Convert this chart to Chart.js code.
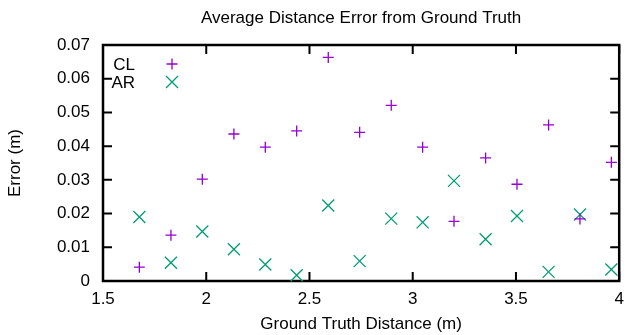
<!DOCTYPE html>
<html lang="en">

<head>
    <meta charset="UTF-8">
    <title>Average Distance Error</title>
    <script src="https://cdn.jsdelivr.net/npm/chart.js"></script>
    <style>
        html, body {
            margin: 0;
            padding: 0;
            background: #ffffff;
        }

        .chart-box {
            width: 629px;
            height: 335px;
        }
    </style>
</head>

<body>
    <div class="chart-box">
        <canvas id="errorChart"></canvas>
    </div>

    <script>
        // data
        const distances = [1.676, 1.829, 1.981, 2.134, 2.286, 2.438, 2.591, 2.743, 2.896, 3.048, 3.200, 3.353, 3.505, 3.658, 3.810, 3.962];
        const clError = [0.0041, 0.0136, 0.0302, 0.0436, 0.0397, 0.0445, 0.0663, 0.0441, 0.0521, 0.0397, 0.0177, 0.0365, 0.0287, 0.0463, 0.0184, 0.0352];
        const arError = [0.0190, 0.0054, 0.0147, 0.0094, 0.0049, 0.0017, 0.0224, 0.0059, 0.0185, 0.0174, 0.0297, 0.0124, 0.0193, 0.0027, 0.0197, 0.0034];
        const xTicks = [1.5, 2, 2.5, 3, 3.5, 4];
        const yTicks = [0, 0.01, 0.02, 0.03, 0.04, 0.05, 0.06, 0.07];

        const FONT = "'Liberation Sans', Arial, sans-serif";

        // gnuplot style frame: box plus inward ticks on all four sides
        const framePlugin = {
            id: 'frame',
            beforeDatasetsDraw(chart) {
                const { ctx, chartArea: a, scales } = chart;
                const len = 9;
                ctx.save();
                ctx.strokeStyle = '#000';
                ctx.lineWidth = 2;
                ctx.beginPath();
                scales.x.ticks.forEach(t => {
                    const px = scales.x.getPixelForValue(t.value);
                    ctx.moveTo(px, a.bottom); ctx.lineTo(px, a.bottom - len);
                    ctx.moveTo(px, a.top); ctx.lineTo(px, a.top + len);
                });
                scales.y.ticks.forEach(t => {
                    const py = scales.y.getPixelForValue(t.value);
                    ctx.moveTo(a.left, py); ctx.lineTo(a.left + len, py);
                    ctx.moveTo(a.right, py); ctx.lineTo(a.right - len, py);
                });
                ctx.stroke();
                ctx.lineWidth = 2.5;
                ctx.strokeRect(a.left, a.top, a.right - a.left, a.bottom - a.top);
                ctx.restore();
            }
        };

        // key in the top left corner, text right-justified then the marker
        const keyPlugin = {
            id: 'key',
            afterDatasetsDraw(chart) {
                const { ctx } = chart;
                ctx.save();
                ctx.font = '17px ' + FONT;
                ctx.textAlign = 'right';
                ctx.textBaseline = 'middle';
                chart.data.datasets.forEach((ds, i) => {
                    const y = 64 + i * 18;
                    ctx.fillStyle = '#000';
                    ctx.fillText(ds.label, 135, y + 1);
                    ctx.strokeStyle = ds.borderColor;
                    ctx.lineWidth = ds.borderWidth;
                    Chart.helpers.drawPoint(ctx, {
                        pointStyle: ds.pointStyle,
                        radius: ds.pointRadius,
                        rotation: 0,
                        borderWidth: ds.borderWidth
                    }, 172, y);
                });
                ctx.restore();
            }
        };

        new Chart(document.getElementById('errorChart'), {
            type: 'scatter',
            data: {
                datasets: [{
                    label: 'CL',
                    data: distances.map((d, i) => ({ x: d, y: clError[i] })),
                    pointStyle: 'cross',
                    pointRadius: 5.5,
                    borderColor: '#9400d3',
                    backgroundColor: '#9400d3',
                    borderWidth: 1.3,
                    clip: false
                }, {
                    label: 'AR',
                    data: distances.map((d, i) => ({ x: d, y: arError[i] })),
                    pointStyle: 'crossRot',
                    pointRadius: 8.5,
                    borderColor: '#009e73',
                    backgroundColor: '#009e73',
                    borderWidth: 1.3,
                    clip: false
                }]
            },
            options: {
                responsive: true,
                maintainAspectRatio: false,
                animation: false,
                events: [],
                layout: {
                    padding: { left: 0, right: 7, top: 0, bottom: 0 }
                },
                plugins: {
                    legend: { display: false },
                    tooltip: { enabled: false },
                    title: {
                        display: true,
                        text: 'Average Distance Error from Ground Truth',
                        fullSize: false,
                        color: '#000',
                        font: { family: FONT, size: 17, weight: 'normal' },
                        padding: { top: 8, bottom: 16.6 }
                    }
                },
                scales: {
                    x: {
                        type: 'linear',
                        min: 1.5,
                        max: 4,
                        afterBuildTicks: s => { s.ticks = xTicks.map(v => ({ value: v })); },
                        afterFit: s => {
                            s.height = 54;
                            s.paddingLeft = 0;
                            s.paddingRight = 0;
                        },
                        grid: { display: false, drawTicks: false, tickLength: 0 },
                        border: { display: false },
                        ticks: {
                            color: '#000',
                            padding: 8,
                            maxRotation: 0,
                            font: { family: FONT, size: 17 },
                            callback: v => String(v)
                        },
                        title: {
                            display: true,
                            text: 'Ground Truth Distance (m)',
                            color: '#000',
                            font: { family: FONT, size: 17 },
                            padding: { top: 0, bottom: 0 }
                        }
                    },
                    y: {
                        type: 'linear',
                        min: 0,
                        max: 0.07,
                        afterBuildTicks: s => { s.ticks = yTicks.map(v => ({ value: v })); },
                        afterFit: s => { s.width = 103; },
                        grid: { display: false, drawTicks: false, tickLength: 0 },
                        border: { display: false },
                        ticks: {
                            color: '#000',
                            padding: 13,
                            font: { family: FONT, size: 17 },
                            callback: v => String(v)
                        },
                        title: {
                            display: true,
                            text: 'Error (m)',
                            color: '#000',
                            font: { family: FONT, size: 17 },
                            padding: { top: 5, bottom: 0 }
                        }
                    }
                }
            },
            plugins: [framePlugin, keyPlugin]
        });
    </script>
</body>

</html>
